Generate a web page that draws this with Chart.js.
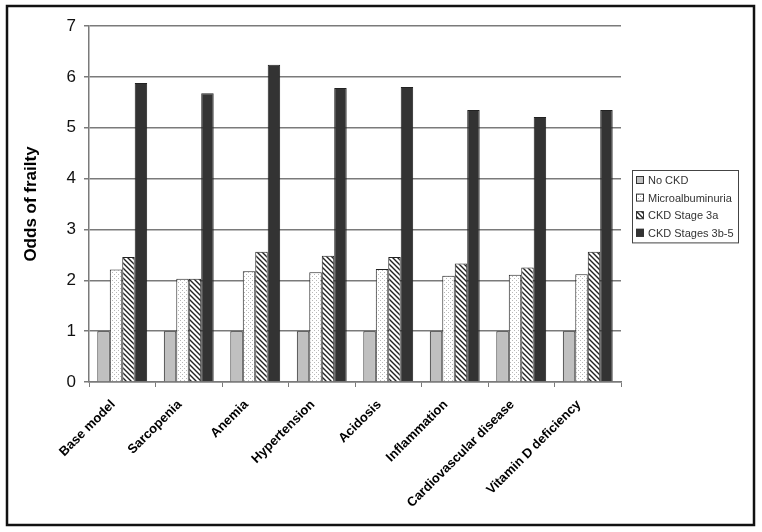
<!DOCTYPE html>
<html>
<head>
<meta charset="utf-8">
<script src="https://cdn.jsdelivr.net/npm/chart.js@4.4.1/dist/chart.umd.min.js"></script>
<style>
  html, body { margin: 0; padding: 0; background: #fff; }
  #wrap { width: 762px; height: 532px; }
</style>
</head>
<body>
<div id="wrap"><canvas id="chart" width="762" height="532"></canvas></div>
<script>
const CATEGORIES = ['Base model', 'Sarcopenia', 'Anemia', 'Hypertension', 'Acidosis', 'Inflammation', 'Cardiovascular disease', 'Vitamin D deficiency'];
const SERIES_NAMES = ['No CKD', 'Microalbuminuria', 'CKD Stage 3a', 'CKD Stages 3b-5'];
const NO_CKD = [1, 1, 1, 1, 1, 1, 1, 1];
const MICRO = [2.21, 2.03, 2.18, 2.16, 2.22, 2.09, 2.11, 2.12];
const STAGE_3A = [2.46, 2.03, 2.56, 2.48, 2.46, 2.33, 2.25, 2.56];
const STAGE_3B5 = [5.88, 5.68, 6.24, 5.78, 5.80, 5.35, 5.21, 5.35];
const Y_TICKS = [0, 1, 2, 3, 4, 5, 6, 7];

// fill patterns, like the old excel ones
function dotPattern(){
  const c = document.createElement('canvas');
  c.width = 4; c.height = 4;
  const g = c.getContext('2d');
  g.fillStyle = '#fff';
  g.fillRect(0, 0, 4, 4);
  g.fillStyle = '#b8b8b8';
  g.fillRect(0, 0, 1, 1);
  g.fillRect(2, 2, 1, 1);
  return g.createPattern(c, 'repeat');
}

function hatchPattern(){
  const c = document.createElement('canvas');
  c.width = 5; c.height = 5;
  const g = c.getContext('2d');
  g.fillStyle = '#fff';
  g.fillRect(0, 0, 5, 5);
  g.strokeStyle = '#222';
  g.lineWidth = 1.4;
  g.beginPath();
  g.moveTo(-1, -1); g.lineTo(6, 6);
  g.moveTo(-1, 4); g.lineTo(1, 6);
  g.moveTo(4, -1); g.lineTo(6, 1);
  g.stroke();
  return g.createPattern(c, 'repeat');
}

const fills = ['#c0c0c0', dotPattern(), hatchPattern(), '#333333'];
const values = [NO_CKD, MICRO, STAGE_3A, STAGE_3B5];

// white page + black frame
const framePlugin = {
  id: 'frame',
  beforeDraw(chart){
    const ctx = chart.ctx;
    ctx.save();
    ctx.fillStyle = '#fff';
    ctx.fillRect(0, 0, chart.width, chart.height);
    ctx.strokeStyle = '#111';
    ctx.lineWidth = 2.5;
    ctx.strokeRect(7, 6, 747, 519);
    ctx.restore();
  }
};

// boxed legend to the right of the plot
const boxLegend = {
  id: 'boxLegend',
  afterDraw(chart){
    const ctx = chart.ctx;
    const x0 = chart.chartArea.right + 11, y0 = 170, w = 106, rowH = 17.6;
    ctx.save();
    ctx.fillStyle = '#fff';
    ctx.fillRect(x0, y0, w, rowH * 4 + 2);
    ctx.strokeStyle = '#444';
    ctx.lineWidth = 1;
    ctx.strokeRect(x0 + 0.5, y0 + 0.5, w, rowH * 4 + 2);
    ctx.font = '11px "Liberation Sans", Arial, sans-serif';
    ctx.textBaseline = 'middle';
    chart.data.datasets.forEach((ds, i) => {
      const cy = y0 + 10 + i * rowH;
      ctx.fillStyle = ds.backgroundColor;
      ctx.fillRect(x0 + 4, cy - 4, 8, 8);
      ctx.strokeStyle = '#333';
      ctx.strokeRect(x0 + 4.5, cy - 3.5, 7, 7);
      ctx.fillStyle = '#333';
      ctx.fillText(ds.label, x0 + 16, cy + 1);
    });
    ctx.restore();
  }
};

new Chart(document.getElementById('chart'), {
  type: 'bar',
  data: {
    labels: CATEGORIES,
    datasets: SERIES_NAMES.map((name, i) => ({
      label: name,
      data: values[i],
      backgroundColor: fills[i],
      borderColor: '#222',
      borderWidth: 1,
      borderSkipped: 'bottom',
      categoryPercentage: 0.75,
      barPercentage: 1.0
    }))
  },
  options: {
    responsive: false,
    animation: false,
    layout: { padding: { left: 9, top: 26, right: 141, bottom: 8 } },
    plugins: {
      legend: { display: false },
      tooltip: { enabled: false }
    },
    scales: {
      y: {
        min: 0,
        max: 7,
        afterBuildTicks(scale){ scale.ticks = Y_TICKS.map(v => ({ value: v })); },
        afterFit(scale){ scale.width = 80; },
        ticks: {
          color: '#111',
          font: { family: '"Liberation Sans", Arial, sans-serif', size: 17 },
          padding: 8
        },
        grid: { color: '#7a7a7a', lineWidth: 1.5, tickLength: 5 },
        border: { color: '#7a7a7a', width: 1.5 },
        title: {
          display: true,
          text: 'Odds of frailty',
          color: '#000',
          font: { family: '"Liberation Sans", Arial, sans-serif', size: 17, weight: 'bold' },
          padding: { top: 12, bottom: 0 }
        }
      },
      x: {
        afterFit(scale){ scale.height = 142; },
        ticks: {
          color: '#000',
          minRotation: 45,
          maxRotation: 45,
          autoSkip: false,
          padding: 10,
          labelOffset: -9,
          font: { family: '"Liberation Sans", Arial, sans-serif', size: 13, weight: 'bold' }
        },
        grid: { offset: true, drawOnChartArea: false, color: '#7a7a7a', tickLength: 5 },
        border: { color: '#7a7a7a', width: 1.5 }
      }
    }
  },
  plugins: [framePlugin, boxLegend]
});
</script>
</body>
</html>
